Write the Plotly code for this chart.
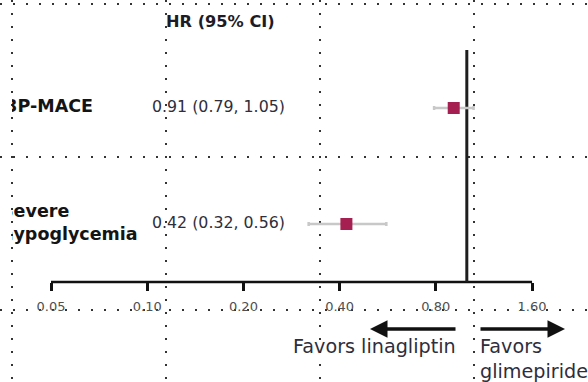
import plotly.graph_objects as go
import math

# ---------------- data ----------------
outcomes = ["3P-MACE", "Severe<br>hypoglycemia"]
rows = [1, 2]
hr = [0.91, 0.42]
ci_low = [0.79, 0.32]
ci_high = [1.05, 0.56]
hr_text = ["0.91 (0.79, 1.05)", "0.42 (0.32, 0.56)"]
tick_vals = [0.05, 0.10, 0.20, 0.40, 0.80, 1.60]
tick_labels = ["0.05", "0.10", "0.20", "0.40", "0.80", "1.60"]
null_value = 1.0

# ---------------- layout constants ----------------
W, H = 588, 382
ROW_PX = 116.0          # pixels per row
ROW1_PX = 108.0         # pixel y of row 1
LEFT_CLIP = 12          # left edge of the forest panel
X_PER_DEC = 319.6       # pixels per decade on log axis
X005_PX = 51.0          # pixel x of 0.05

x_lo = math.log10(0.05) - (X005_PX - LEFT_CLIP) / X_PER_DEC
x_hi = math.log10(0.05) + (W - X005_PX) / X_PER_DEC
r_top = 1 - ROW1_PX / ROW_PX
r_bot = 1 + (H - ROW1_PX) / ROW_PX
axis_row = rows[-1] + 0.5
top_row = rows[0] - 0.5

FONT = "DejaVu Sans"
dash = "2px,11px"

fig = go.Figure()

fig.add_trace(go.Scatter(x=[0], y=[0], mode="markers", marker=dict(opacity=0),
                         xaxis="x", yaxis="y", showlegend=False, hoverinfo="skip"))

fig.add_trace(go.Scatter(x=[tick_vals[0], tick_vals[-1]], y=[axis_row, axis_row],
                         mode="lines", line=dict(color="#111111", width=2.5),
                         xaxis="x2", yaxis="y2", showlegend=False, hoverinfo="skip"))
fig.add_trace(go.Scatter(x=[null_value, null_value], y=[top_row, axis_row],
                         mode="lines", line=dict(color="#1e1e1e", width=3),
                         xaxis="x2", yaxis="y2", showlegend=False, hoverinfo="skip"))
fig.add_trace(go.Scatter(
    x=hr, y=rows, mode="markers",
    marker=dict(symbol="square", size=12, color="#a51f50"),
    error_x=dict(type="data", symmetric=False,
                 array=[h - m for h, m in zip(ci_high, hr)],
                 arrayminus=[m - l for m, l in zip(hr, ci_low)],
                 color="#c8c8c8", thickness=2.5, width=2),
    xaxis="x2", yaxis="y2", showlegend=False, hoverinfo="skip"))

fig.add_trace(go.Scatter(
    x=[93, 1], y=rows, mode="text", text=["<b>%s</b>" % o for o in outcomes],
    textposition=["middle left", "middle right"],
    textfont=dict(family=FONT, size=17.5, color="#141414"),
    xaxis="x3", yaxis="y2", showlegend=False, hoverinfo="skip", cliponaxis=True))
fig.add_trace(go.Scatter(
    x=[152, 152], y=rows, mode="text", text=hr_text,
    textposition="middle right",
    textfont=dict(family=FONT, size=15.8, color="#2e2e3c"),
    xaxis="x3", yaxis="y2", showlegend=False, hoverinfo="skip"))

annotations = [
    dict(text="<b>HR (95% CI)</b>", x=165 / W, y=1 - 21 / H, xref="paper", yref="paper",
         xanchor="left", yanchor="middle", showarrow=False, borderpad=0,
         font=dict(family=FONT, size=16.2, color="#1c1c28")),
    dict(text="", x=370 / W, y=1 - 329 / H, xref="paper", yref="paper",
         ax=87, ay=0, showarrow=True, arrowhead=2, arrowsize=1, arrowwidth=3.5,
         arrowcolor="#111111", standoff=0),
    dict(text="", x=565 / W, y=1 - 329 / H, xref="paper", yref="paper",
         ax=-86, ay=0, showarrow=True, arrowhead=2, arrowsize=1, arrowwidth=3.5,
         arrowcolor="#111111", standoff=0),
    dict(text="Favors linagliptin", x=457 / W, y=1 - 346 / H, xref="paper", yref="paper",
         xanchor="right", yanchor="middle", showarrow=False, borderpad=0,
         font=dict(family=FONT, size=19.2, color="#2e2e3c")),
    dict(text="Favors<br>glimepiride", x=479 / W, y=1 - 359 / H, xref="paper", yref="paper",
         xanchor="left", yanchor="middle", align="left", showarrow=False, borderpad=0,
         font=dict(family=FONT, size=19.2, color="#2e2e3c")),
]

fig.update_layout(
    width=W, height=H, autosize=False,
    margin=dict(l=0, r=0, t=0, b=0, pad=0),
    paper_bgcolor="white", plot_bgcolor="rgba(0,0,0,0)",
    showlegend=False,
    annotations=annotations,
    xaxis=dict(domain=[0, 1], range=[0, W], tick0=12, dtick=154, showgrid=True,
               griddash=dash, gridcolor="#333333", gridwidth=2, zeroline=False,
               showticklabels=False, ticks="", showline=False, fixedrange=True),
    yaxis=dict(domain=[0, 1], range=[H, 0], tick0=4, dtick=153, showgrid=True,
               griddash=dash, gridcolor="#333333", gridwidth=2, zeroline=False,
               showticklabels=False, ticks="", showline=False, fixedrange=True),
    xaxis2=dict(type="log", domain=[LEFT_CLIP / W, 1], range=[x_lo, x_hi],
                anchor="free", position=1 - (ROW1_PX + (axis_row - 1) * ROW_PX) / H,
                tickvals=tick_vals, ticktext=tick_labels, ticks="outside", ticklen=8,
                tickwidth=2.5, tickcolor="#111111", showgrid=False, zeroline=False,
                showline=False, tickfont=dict(family=FONT, size=13, color="#505050"),
                ticklabelstandoff=4),
    yaxis2=dict(domain=[0, 1], range=[r_bot, r_top], anchor="x2", showgrid=False,
                zeroline=False, showticklabels=False, ticks="", showline=False),
    xaxis3=dict(domain=[LEFT_CLIP / W, 1], range=[LEFT_CLIP, W], anchor="y2",
                showgrid=False, zeroline=False, showticklabels=False, ticks="",
                showline=False),
)

fig.write_html("out.html", config={"displayModeBar": False},
               post_script="document.body.style.margin='0';document.body.style.padding='0';")
